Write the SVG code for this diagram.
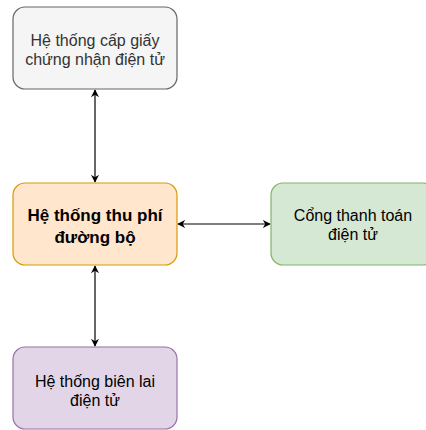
<svg xmlns="http://www.w3.org/2000/svg" width="426" height="430" viewBox="0 0 426 430">
<style>
.box{stroke-width:1.2}
.t{font-family:"Liberation Sans",Arial,sans-serif;font-size:16px;text-anchor:middle}
.b{font-size:17px;font-weight:bold}
.c{fill:none;stroke:#000;stroke-width:1.2}
</style>
<defs>
<marker id="ah" viewBox="0 0 10 10" refX="9" refY="5" markerWidth="8" markerHeight="8" markerUnits="userSpaceOnUse" orient="auto-start-reverse">
<path d="M0,0 L10,5 L0,10 L3,5 Z" fill="#000"/>
</marker>
</defs>
<rect width="426" height="430" fill="#fff"/>
<g id="connectors">
<line class="c" x1="95" y1="90" x2="95" y2="182" marker-start="url(#ah)" marker-end="url(#ah)"/>
<line class="c" x1="178" y1="224" x2="270" y2="224" marker-start="url(#ah)" marker-end="url(#ah)"/>
<line class="c" x1="95" y1="266" x2="95" y2="346" marker-start="url(#ah)" marker-end="url(#ah)"/>
</g>
<g id="cert">
<rect class="box" x="13" y="7" width="164" height="82" rx="12" fill="#f5f5f5" stroke="#666666"/>
<text class="t" x="95" y="46" fill="#333333">Hệ thống cấp giấy</text>
<text class="t" x="95" y="65" fill="#333333">chứng nhận điện tử</text>
</g>
<g id="toll">
<rect class="box" x="13" y="183" width="164" height="82" rx="12" fill="#ffe6cc" stroke="#d79b00"/>
<text class="t b" x="95" y="221" fill="#000">Hệ thống thu phí</text>
<text class="t b" x="95" y="243" fill="#000">đường bộ</text>
</g>
<g id="payment">
<rect class="box" x="271" y="183" width="164" height="82" rx="12" fill="#d5e8d4" stroke="#82b366"/>
<text class="t" x="353" y="221" fill="#000">Cổng thanh toán</text>
<text class="t" x="353" y="240" fill="#000">điện tử</text>
</g>
<g id="receipt">
<rect class="box" x="13" y="347" width="164" height="82" rx="12" fill="#e1d5e7" stroke="#9673a6"/>
<text class="t" x="95" y="387" fill="#000">Hệ thống biên lai</text>
<text class="t" x="95" y="406" fill="#000">điện tử</text>
</g>
</svg>
